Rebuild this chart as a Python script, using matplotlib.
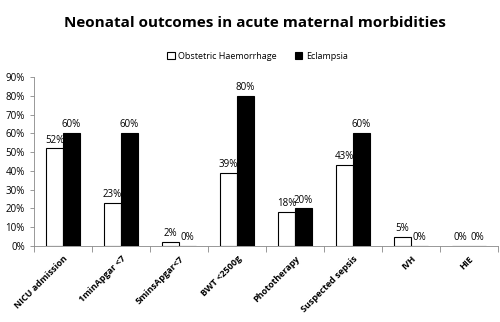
import matplotlib
matplotlib.use("Agg")
import matplotlib.pyplot as plt
import numpy as np
from matplotlib.ticker import FixedLocator, PercentFormatter

categories = ["NICU admission", "1minApgar <7", "5minsApgar<7", "BWT <2500g",
              "Phototherapy", "Suspected sepsis", "IVH", "HIE"]
haemorrhage = [52, 23, 2, 39, 18, 43, 5, 0]
eclampsia = [60, 60, 0, 80, 20, 60, 0, 0]
series_names = ["Obstetric Haemorrhage", "Eclampsia"]

fig = plt.figure(figsize=(5, 3.22), dpi=100)
ax = fig.add_axes([0.068, 0.236, 0.928, 0.525])

x = np.arange(len(categories))
w = 0.29
b1 = ax.bar(x - w/2, haemorrhage, w, color="white", edgecolor="black", linewidth=0.8, label=series_names[0])
b2 = ax.bar(x + w/2, eclampsia, w, color="black", edgecolor="black", linewidth=0.8, label=series_names[1])

for rects, vals in ((b1, haemorrhage), (b2, eclampsia)):
    for r, v in zip(rects, vals):
        ax.text(r.get_x() + r.get_width()/2, v + 1.5, f"{v}%", ha="center", va="bottom",
                fontsize=7, family="Open Sans")

ax.set_xlim(-0.5, len(categories) - 0.5)
ax.set_ylim(0, 90)
ax.set_yticks(np.arange(0, 91, 10))
ax.yaxis.set_major_formatter(PercentFormatter(decimals=0))
ax.set_xticks(x)
ax.set_xticklabels(categories, rotation=45, ha="right", rotation_mode="anchor",
                   fontsize=6.5, fontweight="bold", family="Open Sans")
ax.tick_params(axis="x", length=0, pad=6)
ax.xaxis.set_minor_locator(FixedLocator(np.arange(-0.5, len(categories), 1)))
ax.tick_params(axis="x", which="minor", length=4, width=0.6, color="#888888")
ax.tick_params(axis="y", labelsize=7, length=3, width=0.6, color="#888888")
for lbl in ax.get_yticklabels():
    lbl.set_family("Open Sans")
for s in ["top", "right"]:
    ax.spines[s].set_visible(False)
ax.spines["left"].set_color("#888888")
ax.spines["bottom"].set_color("#888888")
ax.spines["left"].set_linewidth(0.6)
ax.spines["bottom"].set_linewidth(0.6)

fig.text(0.51, 0.93, "Neonatal outcomes in acute maternal morbidities", ha="center", va="center",
         fontsize=11, fontweight="bold", family="Open Sans")
fig.legend(handles=[b1, b2], loc="center", bbox_to_anchor=(0.515, 0.826), ncol=2, frameon=False,
           prop={"family": "Open Sans", "size": 6.5}, handlelength=0.8, handleheight=0.8,
           columnspacing=2.0, handletextpad=0.4)

fig.savefig("out.png", dpi=100)
